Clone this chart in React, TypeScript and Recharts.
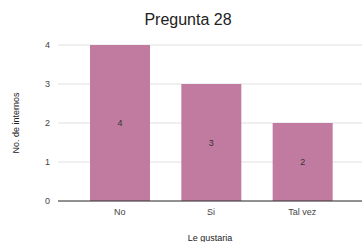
import { Bar, BarChart, CartesianGrid, LabelList, XAxis, YAxis } from 'recharts'

const categories = ['No', 'Si', 'Tal vez']
const counts = [4, 3, 2]
const yTicks = [0, 1, 2, 3, 4]

const data = categories.map((name, i) => ({ name, count: counts[i] }))

export default function App() {
  return (
    <div style={{ position: 'absolute', left: 0, top: 0, width: 362, height: 242, background: '#fff', fontFamily: 'Arial, "Liberation Sans", sans-serif' }}>
      <div
        style={{
          position: 'absolute',
          left: 0,
          width: 376,
          top: 11,
          textAlign: 'center',
          fontSize: 16,
          color: '#222',
        }}
      >
        Pregunta 28
      </div>
      <BarChart
        width={362}
        height={242}
        data={data}
        margin={{ top: 45, right: 0, left: 8, bottom: 1 }}
        barSize={60}
      >
        <CartesianGrid vertical={false} stroke="#e0e0e0" />
        <XAxis
          dataKey="name"
          height={40}
          padding={{ left: 16, right: 14 }}
          tickLine={false}
          axisLine={{ stroke: '#333' }}
          tick={{ fontSize: 9, fill: '#444' }}
          label={{ value: 'Le gustaria', position: 'insideBottom', offset: 0, fontSize: 9, fill: '#222' }}
        />
        <YAxis
          width={50}
          domain={[0, 4]}
          ticks={yTicks}
          tickLine={false}
          axisLine={false}
          tick={{ fontSize: 9, fill: '#444' }}
          label={{ value: 'No. de internos', angle: -90, position: 'insideLeft', offset: 8, fontSize: 9, fill: '#222', style: { textAnchor: 'middle' } }}
        />
        <Bar dataKey="count" fill="#c27ba0" isAnimationActive={false}>
          <LabelList dataKey="count" position="center" fontSize={9} fill="#333" />
        </Bar>
      </BarChart>
    </div>
  )
}
